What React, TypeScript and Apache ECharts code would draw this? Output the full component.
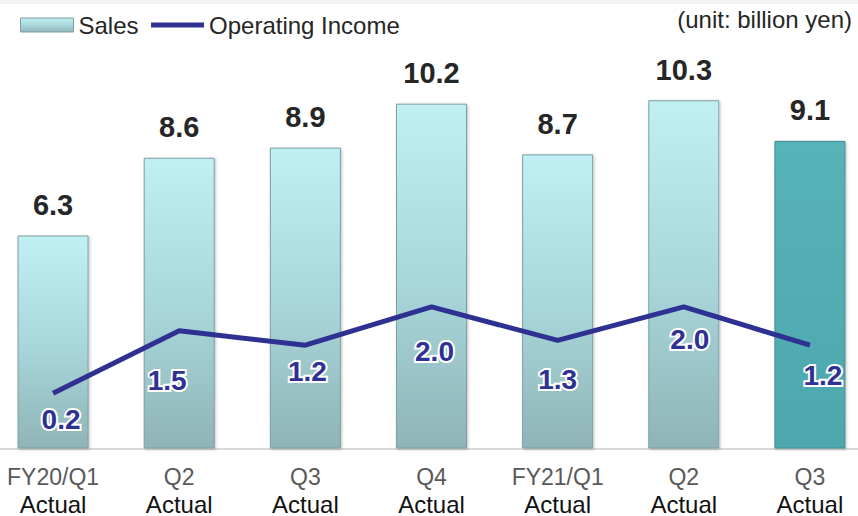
import React, { useEffect, useRef } from "react";
import * as echarts from "echarts";

const periods = ["FY20/Q1", "Q2", "Q3", "Q4", "FY21/Q1", "Q2", "Q3"];
const periodType = ["Actual", "Actual", "Actual", "Actual", "Actual", "Actual", "Actual"];
const sales = [6.3, 8.6, 8.9, 10.2, 8.7, 10.3, 9.1];
const operatingIncome = [0.2, 1.5, 1.2, 2.0, 1.3, 2.0, 1.2];
const unitText = "(unit: billion yen)";

// label placement (layout only)
const incomeLabelOffsets = [[8, 26], [-12, 50], [2, 26], [3, 45], [0, 39], [6, 33], [13, 30]];

const FONT = "'Liberation Sans', Arial, sans-serif";
// the plot is wider than the window: the chart canvas is shifted left
const SHIFT = 10;
const EXTRA_RIGHT = 15;

export default function App() {
  const ref = useRef<HTMLDivElement>(null);
  useEffect(() => {
    if (!ref.current) return;
    const chart = echarts.init(ref.current, null, { renderer: "svg" });
    const lightGrad = new echarts.graphic.LinearGradient(0, 0, 0, 1, [
      { offset: 0, color: "#c1f0f4" },
      { offset: 0.5, color: "#a9d8dc" },
      { offset: 1, color: "#8fb4b7" },
    ]);
    const darkGrad = new echarts.graphic.LinearGradient(0, 0, 0, 1, [
      { offset: 0, color: "#58b2b9" },
      { offset: 1, color: "#4ea7ae" },
    ]);
    const last = sales.length - 1;
    chart.setOption({
      animation: false,
      textStyle: { fontFamily: FONT },
      grid: { left: 0, right: 0, top: 9, bottom: 65, containLabel: false },
      legend: {
        left: 20 + SHIFT,
        top: 13,
        padding: 0,
        itemWidth: 53,
        itemHeight: 14,
        itemGap: 10,
        textStyle: { fontSize: 24, color: "#262626", fontFamily: FONT },
        data: [
          { name: "Sales", icon: "rect", itemStyle: { color: lightGrad, borderColor: "#7f9fa2", borderWidth: 1 } },
          { name: "Operating Income", itemStyle: { opacity: 0 }, lineStyle: { width: 5, color: "#2e3192" } },
        ],
      },
      graphic: [
        { type: "rect", left: SHIFT, top: 0, shape: { width: 858, height: 4 }, style: { fill: "#f2f2f2" } },
        {
          type: "text",
          right: 6 + EXTRA_RIGHT,
          top: 7,
          style: { text: unitText, fontSize: 24, fill: "#262626", fontFamily: FONT },
        },
      ],
      xAxis: {
        type: "category",
        data: periods,
        axisTick: { show: false },
        axisLine: { lineStyle: { color: "#d9d9d9", width: 2 } },
        axisLabel: {
          interval: 0,
          margin: 15,
          formatter: (v: string, i: number) => `{a|${v}}\n{b|${periodType[i]}}`,
          rich: {
            a: { fontSize: 23, color: "#595959", lineHeight: 27, fontFamily: FONT },
            b: { fontSize: 24, color: "#111111", lineHeight: 27, fontFamily: FONT },
          },
        },
      },
      yAxis: [
        { type: "value", min: 0, max: 13, show: false, splitLine: { show: false } },
        { type: "value", min: -0.95, max: 8.2, show: false, splitLine: { show: false } },
      ],
      series: [
        {
          name: "Sales",
          type: "bar",
          barWidth: 71,
          itemStyle: {
            color: lightGrad,
            borderColor: "#7f9fa2",
            borderWidth: 1,
            shadowColor: "rgba(0,0,0,0.25)",
            shadowBlur: 3,
            shadowOffsetX: 1,
            shadowOffsetY: 1,
          },
          label: {
            show: true,
            position: "top",
            distance: 16,
            fontSize: 29,
            fontWeight: "bold",
            color: "#262626",
            fontFamily: FONT,
            formatter: (p: any) => p.value.toFixed(1),
          },
          data: sales.map((v, i) =>
            i === last
              ? { value: v, itemStyle: { color: darkGrad, borderColor: "#3f8c92" } }
              : v
          ),
        },
        {
          name: "Operating Income",
          type: "line",
          yAxisIndex: 1,
          symbol: "circle",
          symbolSize: 0.1,
          lineStyle: { color: "#2e3192", width: 5 },
          itemStyle: { color: "#2e3192" },
          label: {
            show: true,
            position: "inside",
            fontSize: 28,
            fontWeight: "bold",
            color: "#2e3192",
            textBorderColor: "#ffffff",
            textBorderWidth: 4,
            fontFamily: FONT,
            formatter: (p: any) => p.value.toFixed(1),
          },
          data: operatingIncome.map((v, i) => ({
            value: v,
            label: { offset: incomeLabelOffsets[i] },
          })),
          z: 5,
        },
      ],
    });
    return () => chart.dispose();
  }, []);
  return (
    <div
      ref={ref}
      style={{
        position: "fixed",
        left: -SHIFT,
        top: 0,
        width: 858 + SHIFT + EXTRA_RIGHT,
        height: 516,
        background: "#fff",
      }}
    />
  );
}
